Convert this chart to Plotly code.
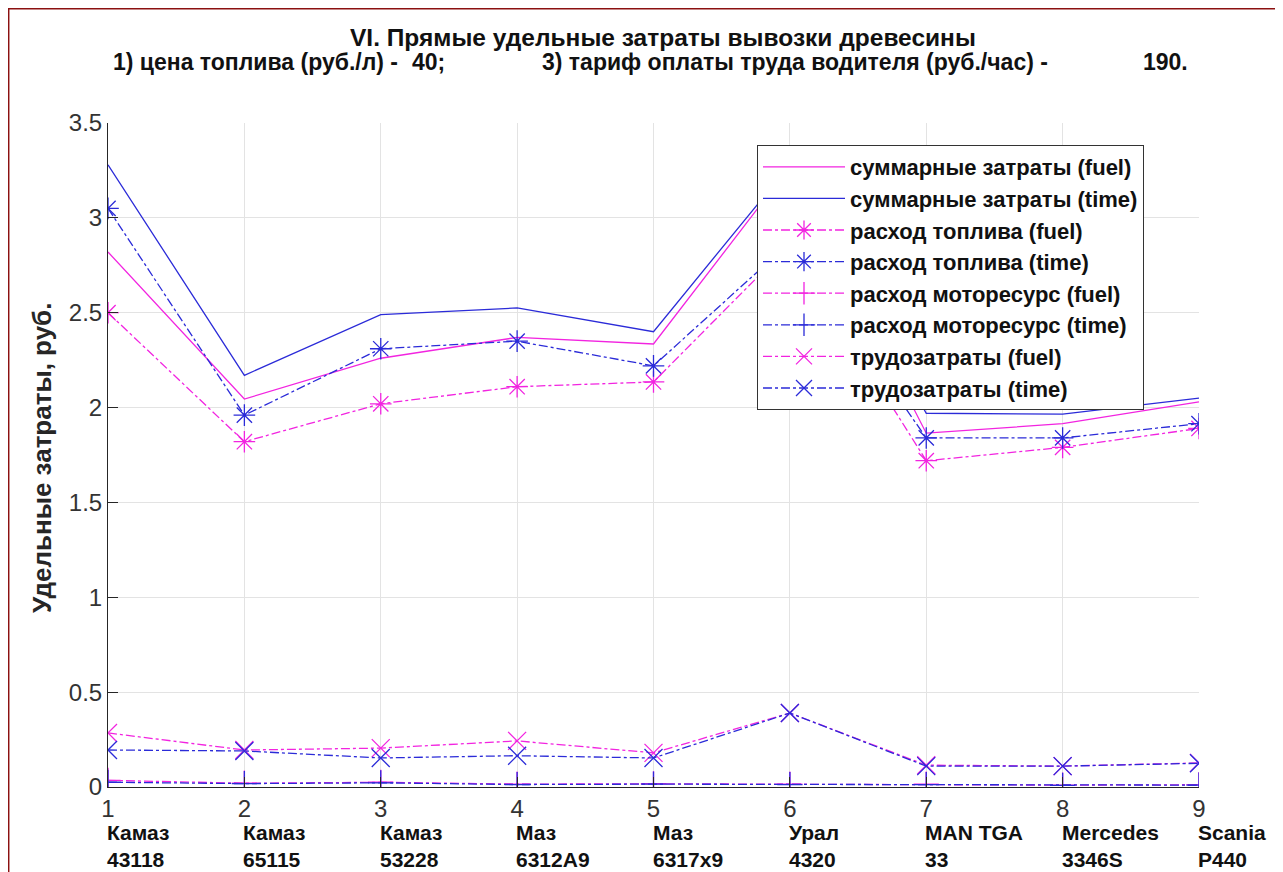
import plotly.graph_objects as go

# ---------------- data ----------------
x_idx = [1, 2, 3, 4, 5, 6, 7, 8, 9]
model_line1 = ["Камаз", "Камаз", "Камаз", "Маз", "Маз", "Урал", "MAN TGA", "Mercedes", "Scania"]
model_line2 = ["43118", "65115", "53228", "6312А9", "6317х9", "4320", "33", "3346S", "P440"]

sum_fuel = [2.82, 2.045, 2.26, 2.37, 2.335, 3.27, 1.865, 1.915, 2.03]
sum_time = [3.28, 2.17, 2.49, 2.525, 2.40, 3.28, 1.97, 1.965, 2.05]
fuel_fuel = [2.50, 1.82, 2.02, 2.11, 2.135, 2.86, 1.72, 1.79, 1.89]
fuel_time = [3.05, 1.96, 2.31, 2.35, 2.22, 2.87, 1.84, 1.84, 1.915]
motor_fuel = [0.035, 0.02, 0.025, 0.015, 0.017, 0.015, 0.015, 0.010, 0.012]
motor_time = [0.025, 0.018, 0.022, 0.013, 0.015, 0.013, 0.013, 0.009, 0.010]
labor_fuel = [0.285, 0.195, 0.205, 0.243, 0.18, 0.39, 0.115, 0.11, 0.127]
labor_time = [0.195, 0.19, 0.153, 0.165, 0.153, 0.39, 0.11, 0.11, 0.125]

series_names = [
    "суммарные затраты (fuel)", "суммарные затраты (time)",
    "расход топлива (fuel)", "расход топлива (time)",
    "расход моторесурс (fuel)", "расход моторесурс (time)",
    "трудозатраты (fuel)", "трудозатраты (time)",
]
y_ticks = [0, 0.5, 1, 1.5, 2, 2.5, 3, 3.5]

title_line1 = "VI. Прямые удельные затраты вывозки древесины"
title_parts = ["1) цена топлива (руб./л) -", "40;", "3) тариф оплаты труда водителя (руб./час) -", "190."]
y_title = "Удельные затраты, руб."

# ---------------- style / geometry ----------------
MAG = "#f224e0"
BLU = "#2b2bd8"
FONT = "Liberation Sans, Arial, sans-serif"
OFF = 8                      # page body margin
W, H = 1275, 864
L, T, B = 100, 115, 85
R = W - (1199 - OFF)
PW = W - L - R
PH = H - T - B


def px2x(sx):
    return (sx - OFF - L) / PW


def py2y(sy):
    return (H - B - (sy - OFF)) / PH


fig = go.Figure()
data = [sum_fuel, sum_time, fuel_fuel, fuel_time, motor_fuel, motor_time, labor_fuel, labor_time]
colors = [MAG, BLU] * 4
dashes = ["solid", "solid"] + ["dashdot"] * 6
symbols = [None, None, "asterisk-open", "asterisk-open", "cross-thin-open", "cross-thin-open",
           "x-thin-open", "x-thin-open"]

for i, (name, ys) in enumerate(zip(series_names, data)):
    sym = symbols[i]
    tr = dict(
        x=x_idx, y=ys, name=name, legendgroup=f"g{i}",
        line=dict(color=colors[i], width=1.3, dash=dashes[i]),
    )
    if sym is None:
        tr["mode"] = "lines"
    else:
        tr["mode"] = "lines+markers"
        tr["marker"] = dict(symbol=sym, size=18, color=colors[i],
                            line=dict(color=colors[i], width=1.3))
    fig.add_trace(go.Scatter(**tr))

annotations = []
annotations.append(dict(text=f"<b>{title_line1}</b>", x=px2x(663), y=py2y(38), xref="paper", yref="paper",
                        xanchor="center", yanchor="middle", showarrow=False,
                        font=dict(family=FONT, size=24.5, color="#111111")))
for txt, sx in zip(title_parts, [111, 410, 540, 1141]):
    annotations.append(dict(text=f"<b>{txt}</b>", x=px2x(sx), y=py2y(62), xref="paper", yref="paper",
                            xanchor="left", yanchor="middle", showarrow=False,
                            font=dict(family=FONT, size=23, color="#111111")))
annotations.append(dict(text=f"<b>{y_title}</b>", x=px2x(42), y=py2y(458), xref="paper", yref="paper",
                        xanchor="center", yanchor="middle", textangle=-90, showarrow=False,
                        font=dict(family=FONT, size=26, color="#262626")))
for xi, a, b in zip(x_idx, model_line1, model_line2):
    annotations.append(dict(text=f"<b>{a}</b><br><b>{b}</b>", x=xi, y=py2y(846), xref="x", yref="paper",
                            xanchor="left", yanchor="middle", align="left", showarrow=False, xshift=-3,
                            font=dict(family=FONT, size=21, color="#111111")))

fig.update_layout(
    width=W, height=H,
    margin=dict(l=L, r=R, t=T, b=B, pad=0),
    paper_bgcolor="white", plot_bgcolor="white",
    font=dict(family=FONT, color="#262626"),
    annotations=annotations,
    showlegend=True,
    legend=dict(
        x=px2x(757), y=py2y(145), xanchor="left", yanchor="top",
        bgcolor="white", bordercolor="#333333", borderwidth=1,
        font=dict(family=FONT, size=22, color="#111111", weight="bold"),
        tracegroupgap=0, itemwidth=82,
        traceorder="normal",
    ),
    shapes=[dict(type="rect", xref="paper", yref="paper",
                 x0=px2x(8.7), x1=px2x(1280), y0=py2y(890), y1=py2y(8.7),
                 line=dict(color="#8b1010", width=1.5), fillcolor="rgba(0,0,0,0)", layer="below")],
)
fig.update_xaxes(
    range=[1, 9], tickmode="array", tickvals=x_idx, ticktext=[str(v) for v in x_idx],
    showline=True, linecolor="#262626", linewidth=1,
    ticks="inside", ticklen=10, tickcolor="#262626",
    showgrid=True, gridcolor="#e3e3e3", gridwidth=1, zeroline=False,
    tickfont=dict(family=FONT, size=24, color="#333333"),
)
fig.update_yaxes(
    range=[0, 3.5], tickmode="array", tickvals=y_ticks,
    showline=True, linecolor="#262626", linewidth=1,
    ticks="inside", ticklen=10, tickcolor="#262626",
    showgrid=True, gridcolor="#e3e3e3", gridwidth=1, zeroline=False,
    tickfont=dict(family=FONT, size=24, color="#333333"),
)
fig.write_html("out.html")
